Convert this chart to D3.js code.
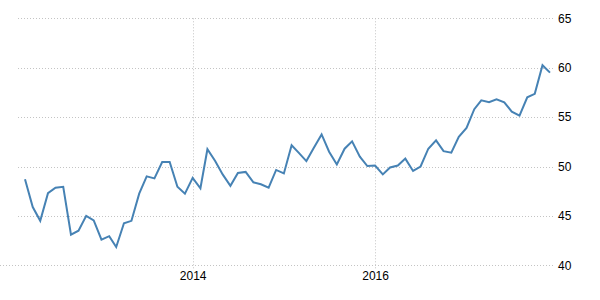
<!DOCTYPE html>
<html>
<head>
<meta charset="utf-8">
<script src="https://cdn.jsdelivr.net/npm/d3@7"></script>
<style>
  html, body { margin: 0; padding: 0; background: #fff; }
  svg { display: block; }
  .tick text { font-family: "Liberation Sans", Arial, sans-serif; font-size: 12px; fill: #000; }
</style>
</head>
<body>
<svg id="chart" width="600" height="300"></svg>
<script>
// Monthly values, March 2012 – December 2017
const startMonth = "2012-03";
const values2012 = [48.7, 45.9, 44.5, 47.3, 47.85, 47.95, 43.1, 43.5, 45.0, 44.55];
const values2013 = [42.6, 42.95, 41.85, 44.25, 44.5, 47.25, 49.0, 48.8, 50.45, 50.45, 47.95, 47.25];
const values2014 = [48.85, 47.8, 51.75, 50.55, 49.2, 48.05, 49.35, 49.45, 48.4, 48.2, 47.85, 49.65];
const values2015 = [49.3, 52.15, 51.4, 50.55, 51.9, 53.25, 51.5, 50.2, 51.8, 52.55, 51.0, 50.05];
const values2016 = [50.1, 49.2, 49.9, 50.1, 50.8, 49.55, 50.0, 51.8, 52.65, 51.55, 51.4, 53.0];
const values2017 = [53.9, 55.8, 56.7, 56.5, 56.8, 56.5, 55.55, 55.15, 57.0, 57.35, 60.25, 59.5];
const xTickLabels = ["2014", "2016"];
const yTicks = [40, 45, 50, 55, 60, 65];

const allValues = [].concat(values2012, values2013, values2014, values2015, values2016, values2017);
const parseMonth = d3.timeParse("%Y-%m");
const start = parseMonth(startMonth);
const data = allValues.map((v, i) => ({ date: d3.timeMonth.offset(start, i), value: v }));

const svg = d3.select("#chart");

const x = d3.scaleTime()
  .domain(d3.extent(data, d => d.date))
  .range([25, 550]);

const y = d3.scaleLinear()
  .domain([40, 65])
  .range([265.3, 18.3]);

const gridLeft = 18, gridRight = 555;

// horizontal gridlines
svg.append("g")
  .selectAll("line")
  .data(yTicks)
  .join("line")
  .attr("x1", d => d === 40 ? 0 : gridLeft)
  .attr("x2", gridRight)
  .attr("y1", d => Math.round(y(d)) + 0.5)
  .attr("y2", d => Math.round(y(d)) + 0.5)
  .attr("stroke", "#c4c4c4")
  .attr("stroke-width", 1)
  .attr("stroke-dasharray", "1,2");

// vertical gridlines
const xTickDates = xTickLabels.map(s => d3.timeParse("%Y")(s));
svg.append("g")
  .selectAll("line")
  .data(xTickDates)
  .join("line")
  .attr("x1", d => Math.round(x(d)) + 0.5)
  .attr("x2", d => Math.round(x(d)) + 0.5)
  .attr("y1", y(65))
  .attr("y2", y(40) + 3)
  .attr("stroke", "#c4c4c4")
  .attr("stroke-width", 1)
  .attr("stroke-dasharray", "1,2");

// x axis labels
const xAxis = d3.axisBottom(x)
  .tickValues(xTickDates)
  .tickFormat(d3.timeFormat("%Y"))
  .tickSize(0)
  .tickPadding(6);
const gx = svg.append("g")
  .attr("transform", `translate(0,${y(40)})`)
  .call(xAxis);
gx.select(".domain").remove();

// y axis labels on the right
const yAxis = d3.axisRight(y)
  .tickValues(yTicks)
  .tickSize(0)
  .tickPadding(3);
const gy = svg.append("g")
  .attr("transform", `translate(${gridRight},0)`)
  .call(yAxis);
gy.select(".domain").remove();

// line
const line = d3.line()
  .x(d => x(d.date))
  .y(d => y(d.value));

svg.append("path")
  .datum(data)
  .attr("fill", "none")
  .attr("stroke", "#4682b4")
  .attr("stroke-width", 2)
  .attr("stroke-linejoin", "miter")
  .attr("d", line);
</script>
</body>
</html>
